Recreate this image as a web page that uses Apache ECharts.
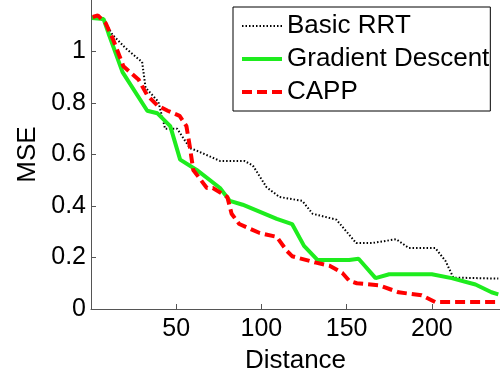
<!DOCTYPE html>
<html>
<head>
<meta charset="utf-8">
<script src="https://cdn.jsdelivr.net/npm/echarts@6/dist/echarts.min.js"></script>
<style>
  html, body { margin: 0; padding: 0; background: #fff; }
  #chart { width: 500px; height: 379px; }
</style>
</head>
<body>
<div id="chart"></div>
<script>
const rrtX = [1, 4, 8.6, 12.6, 20, 28, 30, 32, 39.5, 43.5, 50.6, 58, 62, 75.7, 90, 95, 103, 110.6, 124, 130, 144, 155.6, 165, 179, 186.5, 202, 208, 212.6, 239];
const rrtY = [1.134, 1.14, 1.11, 1.065, 1.015, 0.97, 0.96, 0.86, 0.805, 0.70, 0.70, 0.625, 0.615, 0.575, 0.575, 0.557, 0.473, 0.435, 0.42, 0.37, 0.347, 0.256, 0.256, 0.271, 0.237, 0.237, 0.187, 0.122, 0.118];

const gdX = [0.5, 7.4, 10.3, 18.5, 33, 39, 46.5, 52.3, 62, 75.7, 81.5, 89, 109, 118, 125, 133, 151.5, 157, 167, 175, 200, 211.6, 225.6, 235, 239];
const gdY = [1.13, 1.126, 1.07, 0.92, 0.77, 0.76, 0.71, 0.58, 0.54, 0.47, 0.42, 0.405, 0.35, 0.33, 0.245, 0.19, 0.19, 0.195, 0.12, 0.135, 0.135, 0.12, 0.095, 0.065, 0.057];

const cappX = [1, 4, 8.6, 13, 19, 28, 33, 39, 45, 52, 56, 58, 60, 68, 71.5, 80, 82.5, 87, 99, 109, 115, 118, 132, 140, 147.5, 151.5, 156, 169, 180.5, 194, 202, 239];
const cappY = [1.134, 1.14, 1.11, 1.046, 0.943, 0.89, 0.83, 0.79, 0.77, 0.75, 0.71, 0.63, 0.54, 0.47, 0.47, 0.435, 0.37, 0.33, 0.295, 0.28, 0.225, 0.205, 0.18, 0.168, 0.14, 0.11, 0.1, 0.092, 0.065, 0.053, 0.027, 0.027];

const seriesNames = ["Basic RRT", "Gradient Descent", "CAPP"];

const font = "Liberation Sans, Arial, sans-serif";
const pairs = (xs, ys) => xs.map((x, i) => [x, ys[i]]);

const axisStyle = {
  axisLine: { lineStyle: { color: "#555", width: 1 } },
  axisTick: { inside: true, length: 5, lineStyle: { color: "#555" } },
  splitLine: { show: false },
  axisLabel: { fontSize: 25, color: "#000", fontFamily: font },
  nameTextStyle: { fontSize: 26, color: "#000", fontFamily: font }
};

const chart = echarts.init(document.getElementById("chart"));
chart.setOption({
  animation: false,
  grid: { left: 91, top: 0, width: 411, height: 314 },
  legend: {
    orient: "vertical",
    left: 233,
    top: 7,
    padding: [6, 1, 6, 7],
    itemWidth: 40,
    itemHeight: 25,
    itemGap: 7,
    borderColor: "#000",
    borderWidth: 1,
    backgroundColor: "#fff",
    itemStyle: { opacity: 0 },
    lineStyle: { width: "inherit" },
    textStyle: { fontSize: 26, color: "#000", fontFamily: font, lineHeight: 25 },
    data: seriesNames
  },
  xAxis: Object.assign({}, axisStyle, {
    type: "value",
    min: 0,
    max: 240,
    interval: 50,
    name: "Distance",
    nameLocation: "middle",
    nameGap: 39,
    axisLabel: Object.assign({}, axisStyle.axisLabel, { showMinLabel: false, showMaxLabel: false, margin: 8 })
  }),
  yAxis: Object.assign({}, axisStyle, {
    type: "value",
    min: 0,
    max: 1.2,
    interval: 0.2,
    name: "MSE",
    nameLocation: "middle",
    nameGap: 50,
    axisLabel: Object.assign({}, axisStyle.axisLabel, { showMaxLabel: false, margin: 5 })
  }),
  series: [
    {
      name: seriesNames[0], type: "line", showSymbol: false, symbol: "none",
      lineStyle: { color: "#000", width: 2, type: [1.5, 2] },
      itemStyle: { color: "#000" },
      data: pairs(rrtX, rrtY)
    },
    {
      name: seriesNames[1], type: "line", showSymbol: false, symbol: "none",
      lineStyle: { color: "#1eec1e", width: 4 },
      itemStyle: { color: "#1eec1e" },
      data: pairs(gdX, gdY)
    },
    {
      name: seriesNames[2], type: "line", showSymbol: false, symbol: "none",
      lineStyle: { color: "#ff0000", width: 4, type: [10, 5] },
      itemStyle: { color: "#ff0000" },
      data: pairs(cappX, cappY)
    }
  ]
});
</script>
</body>
</html>
